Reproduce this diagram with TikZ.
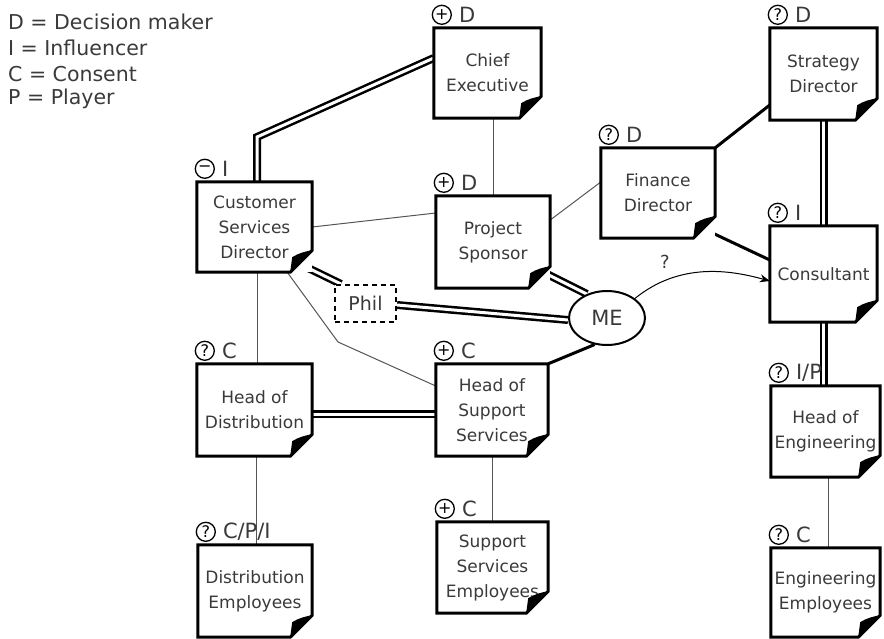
\documentclass[tikz,border=0pt]{standalone}
\usepackage{fontspec}
\setmainfont{DejaVu Sans}
\usetikzlibrary{shapes.geometric,arrows.meta,calc}
\pgfdeclarelayer{bg}
\pgfsetlayers{bg,main}
\definecolor{txt}{HTML}{3A3A3A}
\definecolor{thinln}{HTML}{555555}
\newcommand{\notecard}[8]{%
  \node[card, minimum width=#4pt, minimum height=#5pt] (#1) at (#2,#3) {#6};
  \draw[cardline] ([xshift=-22pt]#1.south east) -- (#1.south west) -- (#1.north west) -- (#1.north east) -- ([yshift=22pt]#1.south east) -- cycle;
  \fill[black] ([xshift=-22pt]#1.south east) -- ([xshift=-20pt,yshift=15pt]#1.south east) .. controls ([xshift=-14pt,yshift=19pt]#1.south east) and ([xshift=-6pt,yshift=21pt]#1.south east) .. ([yshift=22pt]#1.south east) -- cycle;
  \node[sym] (#1-sym) at ([xshift=8pt,yshift=13pt]#1.north west) {#7};
  \node[role, anchor=west] (#1-role) at ([xshift=25pt,yshift=13pt]#1.north west) {#8};
}
\begin{document}
\begin{tikzpicture}[x=1pt,y=-1pt,
 card/.style={rectangle, fill=white, inner sep=0pt, align=center, text=txt, font=\fontsize{17}{25}\selectfont},
 cardline/.style={line width=3pt, line join=miter},
 sym/.style={circle, draw, line width=1.3pt, minimum size=19pt, inner sep=0pt, font=\fontsize{16}{16}\selectfont},
 role/.style={inner sep=0pt, text=txt, font=\fontsize{21}{21}\selectfont},
 dline/.style={draw=black, double=white, line width=2.5pt, double distance=3pt, line join=miter},
 thinline/.style={draw=thinln, line width=1pt},
 thickline/.style={draw=black, line width=3pt},
 legend/.style={anchor=west, inner sep=0pt, text=txt, font=\fontsize{20.5}{20.5}\selectfont}]

\useasboundingbox (0,0) rectangle (884,639);

% legend
\node[legend] (lg1) at (8,22) {D = Decision maker};
\node[legend] (lg2) at (8,48) {I = Influencer};
\node[legend] (lg3) at (8,74) {C = Consent};
\node[legend] (lg4) at (8,99) {P = Player};

% cards
\notecard{chief}{487.5}{73}{107}{90}{Chief\\Executive}{+}{D}
\notecard{strat}{823.5}{74}{107}{92}{Strategy\\Director}{?}{D}
\notecard{csd}{254.5}{227}{115}{90}{Customer\\Services\\Director}{−}{I}
\notecard{ps}{493}{242}{114}{92}{Project\\Sponsor}{+}{D}
\notecard{fin}{658}{193}{114}{90}{Finance\\Director}{?}{D}
\notecard{cons}{823.5}{274}{107}{96}{Consultant}{?}{I}
\notecard{hod}{254.5}{410}{115}{92}{Head of\\Distribution}{?}{C}
\notecard{hss}{492}{410}{112}{92}{Head of\\Support\\Services}{+}{C}
\notecard{de}{255}{591}{114}{92}{Distribution\\Employees}{?}{C/P/I}
\notecard{sse}{492.5}{567.5}{111}{91}{Support\\Services\\Employees}{+}{C}
\notecard{hoe}{825.5}{431.5}{109}{91}{Head of\\Engineering}{?}{I/P}
\notecard{ee}{825.5}{592.5}{109}{89}{Engineering\\Employees}{?}{C}

% Phil and ME
\node[draw, dash pattern=on 5pt off 4pt, line width=2pt, fill=white, minimum width=61pt, minimum height=37pt, inner sep=0pt, text=txt, font=\fontsize{19}{19}\selectfont] (phil) at (365.5,303.5) {Phil};
\node[ellipse, draw, line width=2pt, fill=white, minimum width=76pt, minimum height=54pt, inner sep=0pt, text=txt, font=\fontsize{21}{21}\selectfont] (me) at (607,318) {ME};
\node[text=txt, font=\fontsize{18}{18}\selectfont] (q) at (665,262) {?};

% connectors
\begin{pgfonlayer}{bg}
\coordinate (bendA) at (257,137);
\draw[dline] (csd.north -| bendA) -- (bendA) -- ([yshift=15pt]chief.west);
\draw[thinline] (chief.south -| ps.north) -- (ps.north);
\draw[thinline] (csd.east) -- ([yshift=29pt]ps.west);
\draw[thinline] ([yshift=22pt]ps.east) -- ([yshift=11pt]fin.west);
\draw[thickline] (fin.north east) -- ([yshift=-31pt]strat.west);
\draw[thickline] ([yshift=14pt]cons.west) -- ([xshift=-13pt,yshift=10pt]fin.south east);
\draw[dline] (strat.south) -- (cons.north);
\draw[dline] (cons.south) -- (cons.south |- hoe.north);
\draw[thinline] ([xshift=3pt]hoe.south) -- ([xshift=3pt]ee.north);
\draw[dline] ([xshift=-16pt,yshift=10pt]csd.south east) -- ([xshift=7pt]phil.north west);
\draw[dline] ([yshift=-1.5pt]phil.east) -- ([yshift=-2pt]me.west);
\draw[dline] ([xshift=-7pt,yshift=16pt]ps.south east) -- (me.130);
\draw[thickline] (me.245) -- (hss.north east);
\coordinate (bendB) at (338,342);
\draw[thinline] ([xshift=-25pt]csd.south east) -- (bendB) -- ([yshift=24pt]hss.west);
\draw[thinline] ([xshift=2.5pt]csd.south) -- ([xshift=2.5pt]hod.north);
\draw[dline] ([yshift=-4pt]hod.east) -- ([yshift=-4pt]hss.west);
\draw[thinline] ([xshift=2pt]hod.south) -- ([xshift=1.5pt]de.north);
\draw[thinline] (hss.south) -- (hss.south |- sse.north);
\end{pgfonlayer}
\draw[line width=1pt, -{Stealth[length=10pt,width=8pt]}] (me.35) .. controls (680,262) and (730,270) .. ([yshift=-7pt]cons.west);

\end{tikzpicture}
\end{document}
